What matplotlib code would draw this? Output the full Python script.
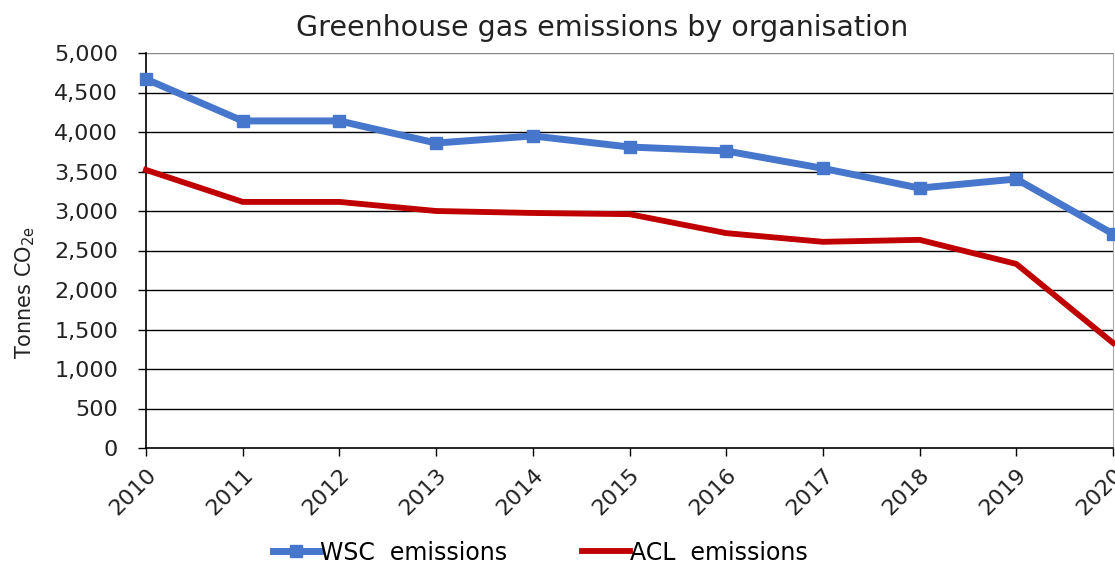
import matplotlib
matplotlib.use("Agg")
import matplotlib.pyplot as plt
from matplotlib.ticker import FuncFormatter

years = [2010, 2011, 2012, 2013, 2014, 2015, 2016, 2017, 2018, 2019, 2020]
wsc = [4670, 4140, 4140, 3860, 3950, 3810, 3760, 3540, 3290, 3405, 2710]
acl = [3520, 3115, 3115, 3000, 2975, 2960, 2720, 2610, 2635, 2330, 1330]
yticks = list(range(0, 5001, 500))

W, H = 1115, 563
plt.rcParams['font.family'] = ['DejaVu Sans']
fig = plt.figure(figsize=(W / 100, H / 100), dpi=100)
ax = fig.add_axes([146/W, 1-448/H, (1113-146)/W, (448-53)/H])

for y in yticks[1:]:
    ax.axhline(y, color='black' if y < 5000 else '#888888', lw=1.0, zorder=1)

ax.plot(years, wsc, color='#4677CC', lw=5.0, marker='s', markersize=8.5,
        label='WSC  emissions', clip_on=False, zorder=3)
ax.plot(years, acl, color='#C00000', lw=4.2, label='ACL  emissions',
        clip_on=False, zorder=3)

ax.set_xlim(2010, 2020)
ax.set_ylim(0, 5000)
ax.set_yticks(yticks)
ax.yaxis.set_major_formatter(FuncFormatter(lambda v, p: f"{int(v):,}"))
ax.set_xticks(years)
ax.set_xticklabels([str(y) for y in years], rotation=45, ha='right',
                   rotation_mode='anchor')
ax.tick_params(axis='both', labelsize=16, labelcolor='#222222', color='black',
               length=6, width=1)
ax.tick_params(axis='y', pad=14)
ax.tick_params(axis='x', pad=6)
ax.spines['top'].set_visible(False)
ax.spines['right'].set_color('#aaaaaa')
ax.spines['left'].set_linewidth(1.2)
ax.spines['bottom'].set_linewidth(1.2)

fig.text(602/W, 1-28/H, 'Greenhouse gas emissions by organisation',
         fontsize=20.5, color='#222222', ha='center', va='center')
fig.text(25/W, 1-292/H, r'Tonnes CO$_{\mathrm{2e}}$', fontsize=15,
         color='#222222', rotation=90, ha='center', va='center')

ax.legend(loc='center', bbox_to_anchor=((540 - 146) / 967, -0.265),
          ncol=2, frameon=False, fontsize=17, handlelength=2.0,
          handletextpad=0.0, columnspacing=3.2)

fig.savefig('out.png', dpi=100)
